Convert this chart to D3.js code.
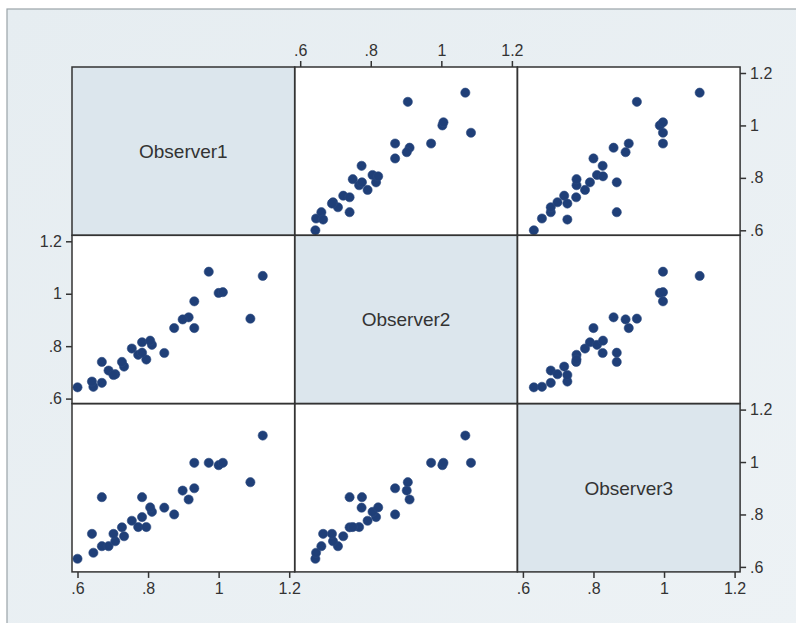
<!DOCTYPE html>
<html>
<head>
<meta charset="utf-8">
<script src="https://cdn.jsdelivr.net/npm/d3@7"></script>
<style>
  body { margin: 0; background: #fff; }
  svg { display: block; }
  .tick text { font-family: "Liberation Sans", Arial, sans-serif; font-size: 16px; fill: #333; }
  .tick line { stroke: #333; stroke-width: 1.5; }
  .domain { display: none; }
</style>
</head>
<body>
<script>
(function(){

//variable names on the diagonal
var varNames = ["Observer1", "Observer2", "Observer3"];

//readings of each observer, one value per subject
var observer1 = [0.600, 0.645, 0.669, 0.688, 0.707, 0.732, 0.641, 0.702, 0.726, 0.772,
                 0.795, 0.754, 0.783, 0.874, 0.811, 0.846, 0.806, 0.915, 0.669, 0.783,
                 0.898, 0.931, 1.090, 1.000, 0.931, 0.972, 1.012, 1.125];
var observer2 = [0.643, 0.645, 0.660, 0.707, 0.693, 0.722, 0.665, 0.690, 0.740, 0.767,
                 0.749, 0.791, 0.815, 0.869, 0.805, 0.774, 0.821, 0.910, 0.740, 0.775,
                 0.902, 0.869, 0.905, 1.003, 0.971, 1.084, 1.006, 1.068];
var observer3 = [0.631, 0.654, 0.679, 0.679, 0.698, 0.717, 0.726, 0.726, 0.751, 0.752,
                 0.752, 0.776, 0.790, 0.800, 0.810, 0.826, 0.827, 0.857, 0.866, 0.866,
                 0.891, 0.900, 0.923, 0.988, 0.997, 0.997, 0.997, 1.101];

//axis ticks and labels
var tickValues = [0.6, 0.8, 1, 1.2];
var tickLabels = [".6", ".8", "1", "1.2"];

var observers = [observer1, observer2, observer3];

var width = 796, height = 623;
var left = 72, top = 67, cellW = 222.7, cellH = 168.3, pad = 5.5;

var svg = d3.select("body").append("svg")
    .attr("width", width)
    .attr("height", height);

//background gradient of the graph region
var defs = svg.append("defs");
var grad = defs.append("linearGradient")
    .attr("id", "bg")
    .attr("x1", 0).attr("y1", 0).attr("x2", 1).attr("y2", 1);
grad.append("stop").attr("offset", "0%").attr("stop-color", "#e6edf1");
grad.append("stop").attr("offset", "100%").attr("stop-color", "#edf2f5");

svg.append("rect")
    .attr("x", 7).attr("y", 9)
    .attr("width", width).attr("height", height)
    .attr("fill", "url(#bg)")
    .attr("stroke", "#9aa3a8")
    .attr("stroke-width", 1.2);

//one x and y scale per column / row
function xScale(j){
    var x0 = left + j * cellW;
    return d3.scaleLinear().domain([0.6, 1.2]).range([x0 + pad, x0 + cellW - pad]);
}
function yScale(i){
    var y0 = top + i * cellH;
    return d3.scaleLinear().domain([0.6, 1.2]).range([y0 + cellH - pad + 0.5, y0 + pad + 0.5]);
}

var fmt = function(d){ return tickLabels[tickValues.indexOf(d)]; };

//draw each cell
for (var i = 0; i < 3; i++){
    for (var j = 0; j < 3; j++){
        var x0 = left + j * cellW, y0 = top + i * cellH;
        var g = svg.append("g");

        g.append("rect")
            .attr("x", x0).attr("y", y0)
            .attr("width", cellW).attr("height", cellH)
            .attr("fill", i == j ? "#dce6ed" : "#ffffff");

        if (i == j){
            g.append("text")
                .attr("x", x0 + cellW / 2)
                .attr("y", y0 + cellH / 2 + 7)
                .attr("text-anchor", "middle")
                .style("font-family", "'Liberation Sans', Arial, sans-serif")
                .style("font-size", "19px")
                .style("fill", "#333")
                .text(varNames[i]);
        } else {
            var xs = xScale(j), ys = yScale(i);
            var pts = d3.range(observer1.length).map(function(k){
                return [observers[j][k], observers[i][k]];
            });
            g.selectAll("circle")
                .data(pts)
                .enter()
                .append("circle")
                .attr("cx", function(d){ return xs(d[0]); })
                .attr("cy", function(d){ return ys(d[1]); })
                .attr("r", 4.6)
                .attr("fill", "#1f3f78")
                .attr("stroke", "#2b4a80")
                .attr("stroke-width", 0.6);
        }
    }
}

//cell frames
for (var i = 0; i < 3; i++){
    for (var j = 0; j < 3; j++){
        svg.append("rect")
            .attr("x", left + j * cellW).attr("y", top + i * cellH)
            .attr("width", cellW).attr("height", cellH)
            .attr("fill", "none")
            .attr("stroke", "#333")
            .attr("stroke-width", 1.5);
    }
}

var bottomY = top + 3 * cellH, rightX = left + 3 * cellW;

//top axis on column 2
svg.append("g")
    .attr("transform", "translate(0," + top + ")")
    .call(d3.axisTop(xScale(1)).tickValues(tickValues).tickFormat(fmt).tickSize(6).tickPadding(5));

//bottom axes on columns 1 and 3
[0, 2].forEach(function(j){
    svg.append("g")
        .attr("transform", "translate(0," + bottomY + ")")
        .call(d3.axisBottom(xScale(j)).tickValues(tickValues).tickFormat(fmt).tickSize(6).tickPadding(5));
});

//left axis on row 2
svg.append("g")
    .attr("transform", "translate(" + left + ",0)")
    .call(d3.axisLeft(yScale(1)).tickValues(tickValues).tickFormat(fmt).tickSize(6).tickPadding(4));

//right axes on rows 1 and 3
[0, 2].forEach(function(i){
    svg.append("g")
        .attr("transform", "translate(" + rightX + ",0)")
        .call(d3.axisRight(yScale(i)).tickValues(tickValues).tickFormat(fmt).tickSize(6).tickPadding(4));
});

})();
</script>
</body>
</html>
